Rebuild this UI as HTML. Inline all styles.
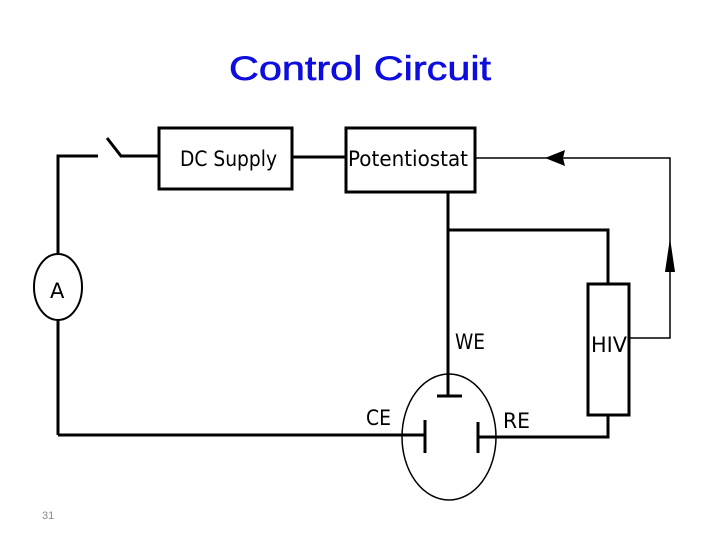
<!DOCTYPE html>
<html><head><style>body{margin:0;background:#fff}svg{display:block}</style></head><body>
<svg width="720" height="540" viewBox="0 0 720 540" xmlns="http://www.w3.org/2000/svg">
<rect width="720" height="540" fill="#fff"/>
<text x="360" y="80" text-anchor="middle" font-family="Liberation Sans, sans-serif" font-size="34" fill="#0d0ddf" stroke="#0d0ddf" stroke-width="0.6" textLength="262" lengthAdjust="spacingAndGlyphs">Control Circuit</text>
<g stroke="#000" fill="none">
<g stroke-width="3">
<polyline points="58,255 58,156 98,156"/>
<polyline points="107,138 121,156 160,156"/>
<line x1="292" y1="157" x2="346" y2="157"/>
<line x1="448" y1="192" x2="448" y2="396"/>
<polyline points="448,230 608,230 608,284"/>
<line x1="58" y1="320" x2="58" y2="435"/>
<line x1="58" y1="435" x2="425" y2="435"/>
<polyline points="608,415 608,437 478,437"/>
<line x1="437" y1="396" x2="462" y2="396"/>
<line x1="425" y1="420" x2="425" y2="453"/>
<line x1="478" y1="422" x2="478" y2="453"/>
<rect x="159" y="128" width="133" height="61"/>
<rect x="346" y="128" width="129" height="64"/>
<rect x="588" y="284" width="41" height="131"/>
</g>
<g stroke-width="1.5">
<polyline points="475,158 670,158 670,338 629,338"/>
<ellipse cx="58" cy="287" rx="24" ry="33" stroke-width="2"/>
<ellipse cx="449" cy="437" rx="47" ry="63"/>
</g>
</g>
<polygon points="545,158 565,150 563,158 565,166" fill="#000"/>
<polygon points="670,238 665,272 675,272" fill="#000"/>
<g font-family="DejaVu Sans, sans-serif" font-size="21" fill="#000">
<text x="180" y="166" textLength="97" lengthAdjust="spacingAndGlyphs">DC Supply</text>
<text x="348" y="166" textLength="120" lengthAdjust="spacingAndGlyphs">Potentiostat</text>
<text x="50" y="298">A</text>
<text x="455" y="349" textLength="30" lengthAdjust="spacingAndGlyphs">WE</text>
<text x="366" y="425" textLength="25" lengthAdjust="spacingAndGlyphs">CE</text>
<text x="503" y="428" textLength="27" lengthAdjust="spacingAndGlyphs">RE</text>
<text x="591" y="352" textLength="36" lengthAdjust="spacingAndGlyphs">HIV</text>
</g>
<text x="42" y="519" font-family="Liberation Sans, sans-serif" font-size="11" fill="#888">31</text>
</svg>
</body></html>
